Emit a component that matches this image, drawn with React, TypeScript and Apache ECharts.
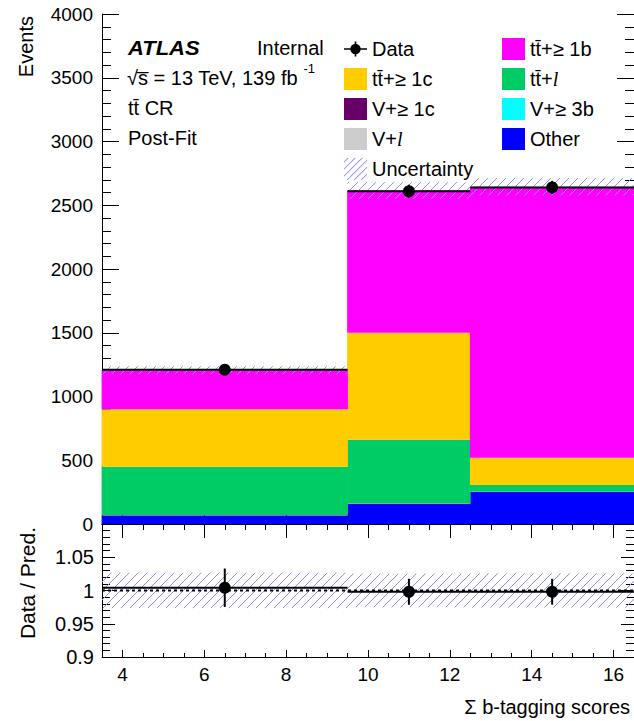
import React, { useEffect, useRef } from "react";
import * as echarts from "echarts";

// ---- data ----
const binEdges = [3.5, 9.5, 12.5, 16.5];
const binCenters = [6.5, 11, 14.5];
const dataCounts = [1210, 2610, 2640];
const otherBkg = [67, 157, 252];
const vLight = [1, 1, 1];
const v3b = [0, 0, 1];
const v1c = [2, 2, 1];
const ttLight = [380, 500, 50];
const tt1c = [450, 840, 215];
const tt1b = [305, 1115, 2125];
const uncertainty = [32, 66, 68];

const N_DATA = "Data";
const N_TT1B = "tt\u0304+\u2265 1b";
const N_TT1C = "tt\u0304+\u2265 1c";
const N_TTL = "tt\u0304+l";
const N_V1C = "V+\u2265 1c";
const N_V3B = "V+\u2265 3b";
const N_VL = "V+l";
const N_OTHER = "Other";
const N_UNC = "Uncertainty";

// stacking order, bottom to top
const components: { name: string; values: number[] }[] = [
  { name: N_OTHER, values: otherBkg },
  { name: N_VL, values: vLight },
  { name: N_V3B, values: v3b },
  { name: N_V1C, values: v1c },
  { name: N_TTL, values: ttLight },
  { name: N_TT1C, values: tt1c },
  { name: N_TT1B, values: tt1b },
];

const colors: Record<string, string> = {
  [N_OTHER]: "#0000ff",
  [N_VL]: "#cccccc",
  [N_V3B]: "#00ffff",
  [N_V1C]: "#660066",
  [N_TTL]: "#00cc66",
  [N_TT1C]: "#ffcc00",
  [N_TT1B]: "#ff00ff",
};

const FONT = "'Liberation Sans', Arial, Helvetica, sans-serif";
const HATCH = "#8c8cff";

function hatchIconPath(w: number, h: number, step: number, t: number) {
  let d = `path://M0,0L0.01,0L0,0.01Z M${w},${h}L${w - 0.01},${h}L${w},${h - 0.01}Z`;
  for (let c = step / 2; c < w + h; c += step) {
    const xa = Math.max(0, c - h), xb = Math.min(w, c);
    const c2 = c + t;
    const xa2 = Math.max(0, c2 - h), xb2 = Math.min(w, c2);
    if (xb - xa < 0.5) continue;
    d += ` M${xa},${c - xa}L${xb},${c - xb}L${xb2},${c2 - xb2}L${xa2},${c2 - xa2}Z`;
  }
  return d;
}

const dataIcon =
  "path://M0,0L0.01,0L0,0.01Z M23,22L22.99,22L23,21.99Z M0,10.2L23,10.2L23,11.8L0,11.8Z M10.7,3.5L12.3,3.5L12.3,18.5L10.7,18.5Z M6.3,11A5.2,5.2 0 1,1 16.7,11A5.2,5.2 0 1,1 6.3,11Z";

export default function App() {
  const ref = useRef<HTMLDivElement>(null);

  useEffect(() => {
    if (!ref.current) return;
    const chart = echarts.init(ref.current, null, { renderer: "svg" });

    const nb = binCenters.length;
    const pred = new Array(nb).fill(0);
    const stackSeries: any[] = components.map((comp) => {
      const rows = comp.values.map((v, i) => {
        const base = pred[i];
        pred[i] += v;
        return [binEdges[i], binEdges[i + 1], base, pred[i]];
      });
      const color = colors[comp.name];
      return {
        type: "custom",
        name: comp.name,
        xAxisIndex: 0,
        yAxisIndex: 0,
        z: 1,
        itemStyle: { color },
        encode: { x: [0, 1], y: [2, 3] },
        data: rows,
        renderItem: (params: any, api: any) => {
          const p0 = api.coord([api.value(0), api.value(3)]);
          const p1 = api.coord([api.value(1), api.value(2)]);
          return {
            type: "rect",
            shape: { x: p0[0] - 0.4, y: p0[1], width: p1[0] - p0[0] + 0.8, height: p1[1] - p0[1] },
            style: { fill: color },
          };
        },
      };
    });

    const hatchRender = (params: any, api: any) => {
      const p0 = api.coord([api.value(0), api.value(3)]);
      const p1 = api.coord([api.value(1), api.value(2)]);
      const X0 = p0[0], Y0 = p0[1], X1 = p1[0], Y1 = p1[1];
      const step = 9;
      const children: any[] = [];
      const start = Math.ceil((X0 + Y0) / step) * step;
      for (let c = start; c <= X1 + Y1; c += step) {
        const xa = Math.max(X0, c - Y1), xb = Math.min(X1, c - Y0);
        if (xb > xa) {
          children.push({
            type: "line",
            shape: { x1: xa, y1: c - xa, x2: xb, y2: c - xb },
            style: { stroke: HATCH, lineWidth: 1 },
          });
        }
      }
      return { type: "group", children };
    };

    const dataRender = (params: any, api: any) => {
      const x0 = api.value(0), x1 = api.value(1), xc = api.value(2), y = api.value(3), e = api.value(4);
      const pl = api.coord([x0, y]);
      const pr = api.coord([x1, y]);
      const pc = api.coord([xc, y]);
      const pt = api.coord([xc, y + e]);
      const pb = api.coord([xc, y - e]);
      return {
        type: "group",
        children: [
          { type: "line", shape: { x1: pl[0], y1: pl[1], x2: pr[0], y2: pr[1] }, style: { stroke: "#000", lineWidth: 2 } },
          { type: "line", shape: { x1: pt[0], y1: pt[1], x2: pb[0], y2: pb[1] }, style: { stroke: "#000", lineWidth: 2 } },
          { type: "circle", shape: { cx: pc[0], cy: pc[1], r: 6 }, style: { fill: "#000" } },
        ],
      };
    };

    const uncMain = pred.map((p, i) => [binEdges[i], binEdges[i + 1], p - uncertainty[i], p + uncertainty[i]]);
    const uncRatio = pred.map((p, i) => [binEdges[i], binEdges[i + 1], 1 - uncertainty[i] / p, 1 + uncertainty[i] / p]);
    const dataMain = dataCounts.map((d, i) => [binEdges[i], binEdges[i + 1], binCenters[i], d, Math.sqrt(d)]);
    const dataRatio = dataCounts.map((d, i) => [binEdges[i], binEdges[i + 1], binCenters[i], d / pred[i], Math.sqrt(d) / pred[i]]);

    const axisLine = { show: true, lineStyle: { color: "#000", width: 1 } };
    const xCommon = {
      type: "value",
      min: binEdges[0],
      max: binEdges[binEdges.length - 1],
      splitNumber: 6,
      splitLine: { show: false },
      axisLine,
    };

    const legendText = {
      fontSize: 20,
      fontFamily: FONT,
      color: "#000",
      rich: { i: { fontStyle: "italic", fontFamily: "'Liberation Serif', serif", fontSize: 20, color: "#000" } },
    };
    const legendFormatter = (name: string) => (name.endsWith("+l") ? name.slice(0, -1) + "{i|l}" : name);
    const legendCommon = {
      orient: "vertical",
      top: 38,
      itemWidth: 23,
      itemHeight: 22,
      itemGap: 8,
      padding: 0,
      selectedMode: false,
      textStyle: legendText,
      formatter: legendFormatter,
    };

    const textStyle = (extra: any) => ({ fontFamily: FONT, fontSize: 20, fill: "#000", ...extra });

    const option: any = {
      animation: false,
      backgroundColor: "#fff",
      grid: [
        { left: 102, top: 14, width: 539.5, height: 510 },
        { left: 102, top: 524, width: 539.5, height: 133 },
      ],
      xAxis: [
        {
          ...xCommon,
          gridIndex: 0,
          position: "bottom",
          axisLabel: { show: false },
          axisTick: { show: true, inside: true, length: 14, lineStyle: { color: "#000" } },
          minorTick: { show: true, splitNumber: 4, length: 6, lineStyle: { color: "#000" } },
        },
        {
          ...xCommon,
          gridIndex: 0,
          position: "top",
          axisLabel: { show: false },
          axisTick: { show: true, inside: true, length: 14, lineStyle: { color: "#000" } },
          minorTick: { show: true, splitNumber: 4, length: 6, lineStyle: { color: "#000" } },
        },
        {
          ...xCommon,
          gridIndex: 1,
          position: "bottom",
          axisLabel: {
            show: true,
            showMinLabel: false,
            showMaxLabel: false,
            fontSize: 19,
            fontFamily: FONT,
            color: "#000",
            margin: 8,
          },
          axisTick: { show: true, inside: true, length: 7, lineStyle: { color: "#000" } },
          minorTick: { show: true, splitNumber: 4, length: 4, lineStyle: { color: "#000" } },
        },
      ],
      yAxis: [
        {
          type: "value",
          gridIndex: 0,
          position: "left",
          min: 0,
          max: 4000,
          interval: 500,
          splitLine: { show: false },
          axisLine,
          axisLabel: { fontSize: 19, fontFamily: FONT, color: "#000", margin: 9, formatter: (v: number) => String(v) },
          axisTick: { show: true, inside: true, length: 17, lineStyle: { color: "#000" } },
          minorTick: { show: true, splitNumber: 5, length: 9, lineStyle: { color: "#000" } },
        },
        {
          type: "value",
          gridIndex: 0,
          position: "right",
          min: 0,
          max: 4000,
          interval: 500,
          splitLine: { show: false },
          axisLine,
          axisLabel: { show: false },
          axisTick: { show: true, inside: true, length: 17, lineStyle: { color: "#000" } },
          minorTick: { show: true, splitNumber: 5, length: 9, lineStyle: { color: "#000" } },
        },
        {
          type: "value",
          gridIndex: 1,
          position: "left",
          min: 0.9,
          max: 1.1,
          interval: 0.05,
          splitLine: { show: false },
          axisLine,
          axisLabel: {
            fontSize: 20,
            fontFamily: FONT,
            color: "#000",
            margin: 8,
            showMaxLabel: false,
            formatter: (v: number) => String(+v.toFixed(2)),
          },
          axisTick: { show: true, inside: true, length: 13, lineStyle: { color: "#000" } },
          minorTick: { show: true, splitNumber: 5, length: 8, lineStyle: { color: "#000" } },
        },
        {
          type: "value",
          gridIndex: 1,
          position: "right",
          min: 0.9,
          max: 1.1,
          interval: 0.05,
          splitLine: { show: false },
          axisLine,
          axisLabel: { show: false },
          axisTick: { show: true, inside: true, length: 13, lineStyle: { color: "#000" } },
          minorTick: { show: true, splitNumber: 5, length: 8, lineStyle: { color: "#000" } },
        },
      ],
      legend: [
        {
          ...legendCommon,
          left: 344,
          data: [
            { name: N_DATA, icon: dataIcon },
            { name: N_TT1C, icon: "rect" },
            { name: N_V1C, icon: "rect" },
            { name: N_VL, icon: "rect" },
            { name: N_UNC, icon: hatchIconPath(23, 22, 7, 1.3) },
          ],
        },
        {
          ...legendCommon,
          left: 502,
          data: [
            { name: N_TT1B, icon: "rect" },
            { name: N_TTL, icon: "rect" },
            { name: N_V3B, icon: "rect" },
            { name: N_OTHER, icon: "rect" },
          ],
        },
      ],
      series: [
        ...stackSeries,
        {
          type: "custom",
          name: N_UNC,
          xAxisIndex: 0,
          yAxisIndex: 0,
          z: 2,
          itemStyle: { color: HATCH },
          encode: { x: [0, 1], y: [2, 3] },
          data: uncMain,
          renderItem: hatchRender,
        },
        {
          type: "custom",
          name: N_DATA,
          xAxisIndex: 0,
          yAxisIndex: 0,
          z: 3,
          itemStyle: { color: "#000" },
          encode: { x: [0, 1], y: 3 },
          data: dataMain,
          renderItem: dataRender,
        },
        {
          type: "custom",
          name: N_UNC,
          xAxisIndex: 2,
          yAxisIndex: 2,
          z: 2,
          itemStyle: { color: HATCH },
          encode: { x: [0, 1], y: [2, 3] },
          data: uncRatio,
          renderItem: hatchRender,
        },
        {
          type: "line",
          name: "Reference",
          xAxisIndex: 2,
          yAxisIndex: 2,
          z: 2,
          symbol: "none",
          lineStyle: { color: "#000", width: 2, type: [3, 3] },
          data: [
            [binEdges[0], 1],
            [binEdges[binEdges.length - 1], 1],
          ],
        },
        {
          type: "custom",
          name: N_DATA,
          xAxisIndex: 2,
          yAxisIndex: 2,
          z: 3,
          itemStyle: { color: "#000" },
          encode: { x: [0, 1], y: 3 },
          data: dataRatio,
          renderItem: dataRender,
        },
      ],
      graphic: [
        {
          type: "text",
          x: 128,
          y: 48,
          scaleX: 1.1,
          style: textStyle({ text: "ATLAS", fontWeight: "bold", fontStyle: "italic", verticalAlign: "middle" }),
        },
        { type: "text", x: 257, y: 48, style: textStyle({ text: "Internal", verticalAlign: "middle" }) },
        {
          type: "text",
          x: 127,
          y: 78,
          style: textStyle({
            text: "\u221As\u0305 = 13 TeV, 139 fb {sup|-1}",
            verticalAlign: "middle",
            lineHeight: 32,
            rich: { sup: { fontSize: 13, lineHeight: 13, verticalAlign: "top", fontFamily: FONT, fill: "#000" } },
          }),
        },
        { type: "text", x: 128, y: 108, style: textStyle({ text: "tt\u0304 CR", verticalAlign: "middle" }) },
        { type: "text", x: 128, y: 138, style: textStyle({ text: "Post-Fit", verticalAlign: "middle" }) },
        {
          type: "text",
          x: 26,
          y: 16,
          rotation: Math.PI / 2,
          style: textStyle({ text: "Events", align: "right", verticalAlign: "middle" }),
        },
        {
          type: "text",
          x: 27,
          y: 527,
          rotation: Math.PI / 2,
          style: textStyle({ text: "Data / Pred.", fontSize: 21, align: "right", verticalAlign: "middle" }),
        },
        {
          type: "text",
          x: 630,
          y: 707,
          style: textStyle({ text: "\u03A3 b-tagging scores", align: "right", verticalAlign: "middle" }),
        },
      ],
    };

    chart.setOption(option);
    return () => chart.dispose();
  }, []);

  return (
    <div
      style={{ position: "fixed", left: 0, top: 0, width: 634, height: 721, overflow: "hidden", background: "#fff" }}
    >
      <div ref={ref} style={{ width: 634, height: 721 }} />
    </div>
  );
}
